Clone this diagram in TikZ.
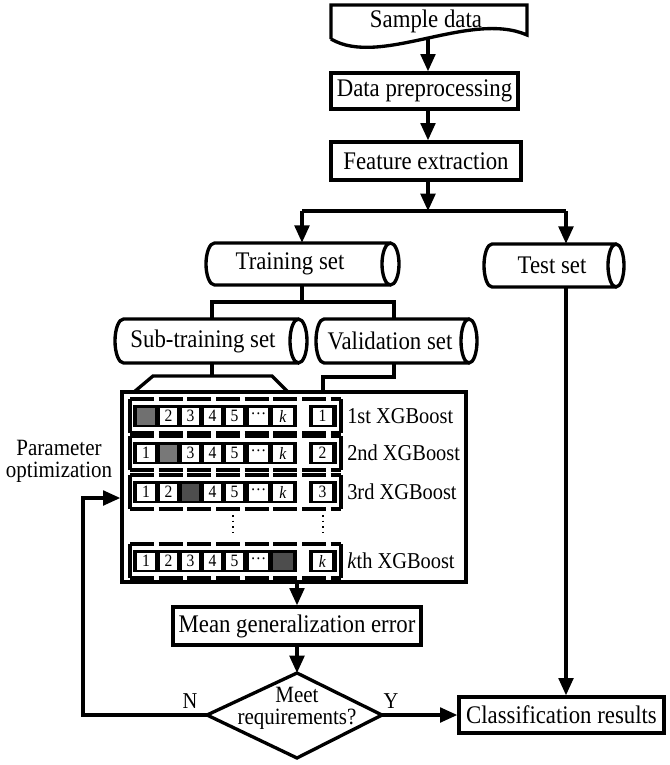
\documentclass[tikz,border=0pt]{standalone}
\usepackage{fontspec}
\setmainfont{Liberation Serif}[FakeStretch=0.9]
\usetikzlibrary{arrows.meta}
\newcommand\mainf{\fontsize{19pt}{14pt}\selectfont}
\newcommand\lblf{\fontsize{17pt}{17pt}\selectfont}
\newcommand\cellf{\fontsize{13pt}{13pt}\selectfont}
\newcommand\twof{\fontsize{17.5pt}{16.5pt}\selectfont}
\definecolor{gA}{HTML}{707070}
\definecolor{gB}{HTML}{787878}
\definecolor{gC}{HTML}{4D4D4D}
% cylinder outline: x0 y0 x1 y1 a  (px)
\newcommand\cylshape[5]{%
  \draw[ln] ({#3-#5},#2) -- ({#1+#5},#2)
    arc[start angle=270,end angle=90,x radius=#5,y radius={(#4-#2)/2}] -- ({#3-#5},#4)
    ({#3-#5},{(#2+#4)/2}) ellipse[x radius=#5,y radius={(#4-#2)/2}];}
\begin{document}
\begin{tikzpicture}[x=0.75pt,y=-0.75pt,
  ln/.style={line width=2.5pt},
  fr/.style={line width=2.8pt},
  arr/.style={ln,-{Triangle[length=13pt,width=11pt]}},
  box/.style={draw,line width=2.5pt,inner sep=0pt,font=\mainf},
  txt/.style={inner sep=0pt,font=\mainf},
  cell/.style={fill=white,inner sep=0pt,minimum height=12.75pt,font=\cellf}]
\useasboundingbox (0,0) rectangle (670,765);

% ---- top chain
\coordinate (ax) at (428,0);
\draw[ln] (331,39) -- (331,5) -- (527,5) -- (527,35) .. controls (470,10) and (380,68) .. (331,39);
\node[txt,minimum height=27pt] (sample) at (426,21) {Sample data};
\node[box,minimum width=140.25pt,minimum height=27pt] (prep) at (424.5,91) {Data preprocessing};
\node[box,minimum width=142.5pt,minimum height=28.5pt] (feat) at (426,161) {Feature extraction};
\draw[arr] (ax |- sample.south) -- (ax |- prep.north);
\draw[arr] (ax |- prep.south) -- (ax |- feat.north);
\coordinate (sp) at (428,211);
\coordinate (spL) at (302,211);
\coordinate (spR) at (566,211);
\draw[arr] (ax |- feat.south) -- (sp);
\draw[ln] (spL) -- (spR);

% ---- cylinders
\cylshape{206}{243}{399}{285}{8.5}
\node[txt,minimum height=31.5pt] (train) at (290,264) {Training set};
\cylshape{484}{244}{624}{287}{8}
\node[txt,minimum height=32.25pt] (test) at (552,265.5) {Test set};
\cylshape{115}{319}{307}{363}{8.5}
\node[txt,minimum height=33pt] (sub) at (203,341) {Sub-training set};
\cylshape{316}{319}{477}{363}{8}
\node[txt,minimum height=33pt] (val) at (390,341) {Validation set};

\draw[arr] (spL) -- (spL |- train.north);
\draw[arr] (spR) -- (spR |- test.north);

\coordinate (tb) at (302,302);
\coordinate (tbL) at (212,302);
\coordinate (tbR) at (394,302);
\draw[ln] (tb |- train.south) -- (tb);
\draw[ln] (tbL |- sub.north) -- (tbL) -- (tbR) -- (tbR |- val.north);

% ---- big box
\node[draw,line width=2.5pt,inner sep=0pt,minimum width=258pt,minimum height=142.5pt] (big) at (294,487) {};
\coordinate (sb) at (212,376);
\coordinate (trL) at (153,376);
\coordinate (trR) at (272,376);
\coordinate (trLb) at (134,392);
\coordinate (trRb) at (288,392);
\draw[ln] (sb |- sub.south) -- (sb);
\draw[ln] (trLb) -- (trL) -- (trR) -- (trRb);
\coordinate (vb) at (394,377);
\coordinate (vb2) at (323,377);
\draw[ln] (vb |- val.south) -- (vb) -- (vb2) -- (vb2 |- big.north);

% ---- rows
\foreach \cy/\g/\gc/\rl/\txt in {416/1/gA/1/{1st XGBoost},453/2/gB/2/{2nd XGBoost},492/3/gC/3/{3rd XGBoost},561/7/gC/{\textit{k}}/{\textit{k}th XGBoost}}{
  \draw[fr] (130,\cy-17) -- (130,\cy+17) (341,\cy-17) -- (341,\cy+17);
  \draw[fr,dash pattern=on 18pt off 3.5pt] (130,\cy-17) -- (341,\cy-17) (130,\cy+17) -- (341,\cy+17);
  \node[fill=black,inner sep=0pt,minimum width=123pt,minimum height=16.5pt] (seq\cy) at (215,\cy) {};
  \foreach \i/\cx/\w/\t in {1/146/18/1,2/168.5/17/2,3/190.5/17/3,4/212.5/17/4,5/234.5/17/5,6/258.5/19/{···},7/283/20/{\textit{k}}}{
    \ifnum\i=\g
      \node[cell,fill=\gc,minimum width=\w*0.75pt] (c\cy-\i) at (\cx,\cy) {};
    \else
      \node[cell,minimum width=\w*0.75pt] (c\cy-\i) at (\cx,\cy) {\t};
    \fi
  }
  \node[fill=black,inner sep=0pt,minimum width=21pt,minimum height=16.5pt] (rb\cy) at (323,\cy) {};
  \node[cell,minimum width=14.25pt] (r\cy) at (322.5,\cy) {\rl};
  \node[anchor=west,inner sep=0pt,font=\lblf] (lab\cy) at (347,\cy) {\txt};
}
\coordinate (dt1) at (233,515);
\coordinate (dt2) at (323,515);
\draw[line width=1.5pt,dash pattern=on 1.2pt off 3pt] (dt1) -- ++(0,18);
\draw[line width=1.5pt,dash pattern=on 1.2pt off 3pt] (dt2) -- ++(0,18);

% ---- bottom
\coordinate (cx) at (297,0);
\node[box,minimum width=186pt,minimum height=28.5pt] (mean) at (297,626) {Mean generalization error};
\draw[arr] (cx |- big.south) -- (cx |- mean.north);
\coordinate (dT) at (297,673);
\coordinate (dR) at (382,715);
\coordinate (dB) at (297,758);
\coordinate (dL) at (207,715);
\draw[ln,line join=miter] (dT) -- (dR) -- (dB) -- (dL) -- cycle;
\node[txt,align=center,font=\twof] (dec) at (297,708) {Meet\\requirements?};
\draw[arr] (mean.south) -- (dT);

\node[box,minimum width=153.75pt,minimum height=27pt] (cls) at (561.5,715) {Classification results};
\draw[arr] (dR) -- (cls.west);
\draw[arr] (spR |- test.south) -- (spR |- cls.north);

\coordinate (lb) at (83,715);
\coordinate (lp) at (83,498);
\draw[arr] (dL) -- (lb) -- (lp) -- (big.west |- lp);

\node[txt,font=\fontsize{17pt}{17pt}\selectfont] (N) at (190,701) {N};
\node[txt,font=\fontsize{17pt}{17pt}\selectfont] (Y) at (391,701) {Y};
\node[txt,align=center,font=\twof] (param) at (59,461) {Parameter\\optimization};
\end{tikzpicture}
\end{document}
